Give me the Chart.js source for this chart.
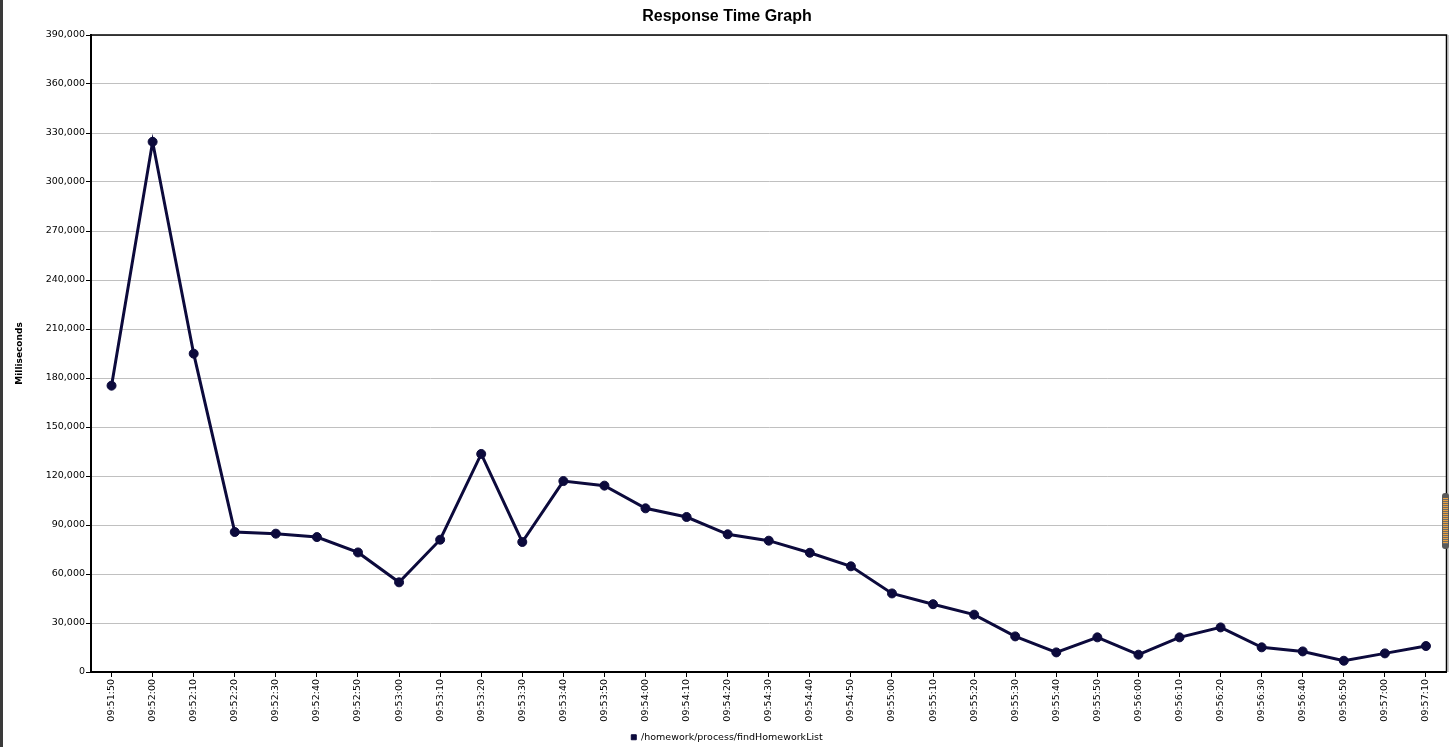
<!DOCTYPE html>
<html>
<head>
<meta charset="utf-8">
<script src="https://cdn.jsdelivr.net/npm/chart.js@4"></script>
<style>
  html, body { margin: 0; padding: 0; background: #fff; overflow: hidden; width: 1452px; height: 747px; }
  #wrap { position: relative; width: 1452px; height: 747px; }
  canvas { position: absolute; left: 0; top: 0; }
  #leftbar { position: absolute; left: 0; top: 0; width: 3px; height: 747px; background: #3a3a3a; }
  #thumb { position: absolute; left: 1442px; top: 493px; width: 7px; height: 56px; border-radius: 3px;
           background: #5a5a5a; }
  #thumb div { position: absolute; left: 1px; right: 1px; top: 5px; bottom: 5px;
           background: repeating-linear-gradient(to bottom, #e8a040 0px, #e8a040 1px, #6a6a6a 1px, #6a6a6a 2px); }
</style>
</head>
<body>
<div id="wrap">
  <canvas id="c" width="1452" height="752"></canvas>
  <div id="leftbar"></div>
  <div id="thumb"><div></div></div>
</div>
<script>
const chartTitle = 'Response Time Graph';
const yAxisTitle = 'Milliseconds';
const seriesName = '/homework/process/findHomeworkList';
const timeLabels = [
  '09:51:50','09:52:00','09:52:10','09:52:20','09:52:30','09:52:40','09:52:50',
  '09:53:00','09:53:10','09:53:20','09:53:30','09:53:40','09:53:50',
  '09:54:00','09:54:10','09:54:20','09:54:30','09:54:40','09:54:50',
  '09:55:00','09:55:10','09:55:20','09:55:30','09:55:40','09:55:50',
  '09:56:00','09:56:10','09:56:20','09:56:30','09:56:40','09:56:50',
  '09:57:00','09:57:10'
];
const responseTimes = [
  175300, 324600, 194900, 85700, 84700, 82600, 73200,
  54900, 81000, 133500, 79600, 116900, 114100,
  100200, 94900, 84300, 80400, 73000, 64700,
  48100, 41500, 35100, 21800, 12000, 21200,
  10600, 21200, 27300, 15100, 12600, 6900,
  11400, 15900
];
const yMin = 0;
const yMax = 390000;
const yStep = 30000;

const navy = '#0c0a3c';
const tickFont = { family: 'DejaVu Sans', size: 9.5 };

const frame = {
  id: 'frame',
  beforeDatasetsDraw(chart) {
    const a = chart.chartArea, ctx = chart.ctx;
    ctx.save();
    ctx.strokeStyle = '#000';
    ctx.lineWidth = 1.5;
    ctx.beginPath();
    ctx.moveTo(a.left, a.top);
    ctx.lineTo(a.right, a.top);
    ctx.lineTo(a.right, a.bottom);
    ctx.stroke();
    ctx.strokeStyle = '#9a9a9a';
    ctx.lineWidth = 1;
    ctx.beginPath();
    ctx.moveTo(a.right + 1.5, a.top);
    ctx.lineTo(a.right + 1.5, a.bottom);
    ctx.stroke();
    ctx.restore();
  }
};

new Chart(document.getElementById('c'), {
  type: 'line',
  data: {
    labels: timeLabels,
    datasets: [{
      label: seriesName,
      data: responseTimes,
      borderColor: navy,
      backgroundColor: navy,
      borderWidth: 3,
      pointRadius: 4.5,
      pointBorderWidth: 1,
      pointBackgroundColor: navy,
      pointBorderColor: navy,
      tension: 0
    }]
  },
  options: {
    responsive: false,
    animation: false,
    devicePixelRatio: 1,
    layout: { padding: { left: 7, right: 5, top: 0, bottom: 0 } },
    plugins: {
      title: {
        display: true,
        text: chartTitle,
        color: '#000',
        font: { family: 'Liberation Sans', size: 16, weight: 'bold' },
        padding: { top: 7, bottom: 8.8 }
      },
      legend: {
        position: 'bottom',
        labels: {
          boxWidth: 5,
          boxHeight: 5,
          color: '#000',
          font: tickFont,
          padding: 10,
          generateLabels(chart) {
            return Chart.defaults.plugins.legend.labels.generateLabels(chart)
              .map(l => Object.assign({}, l, { lineWidth: 1 }));
          }
        }
      },
      tooltip: { enabled: false }
    },
    scales: {
      x: {
        offset: true,
        grid: { drawOnChartArea: false, drawTicks: true, tickLength: 5, tickColor: '#000', lineWidth: 1 },
        border: { display: true, color: '#000', width: 2 },
        ticks: { autoSkip: false, maxRotation: 90, minRotation: 90, padding: 2, color: '#000', font: tickFont },
        afterFit(s) { s.height = 50.5; }
      },
      y: {
        min: yMin,
        max: yMax,
        grid: { color: '#c0c0c0', lineWidth: 1, drawTicks: true, tickLength: 5, tickColor: '#000' },
        border: { display: true, color: '#000', width: 2 },
        ticks: {
          stepSize: yStep,
          padding: 1,
          color: '#000',
          font: tickFont,
          callback: v => v.toLocaleString('en-US')
        },
        title: {
          display: true,
          text: yAxisTitle,
          color: '#000',
          font: { family: 'DejaVu Sans', size: 9, weight: 'bold' },
          padding: { top: 7.6, bottom: 0 }
        },
        afterFit(s) { s.width = 84; }
      }
    }
  },
  plugins: [frame]
});
</script>
</body>
</html>
